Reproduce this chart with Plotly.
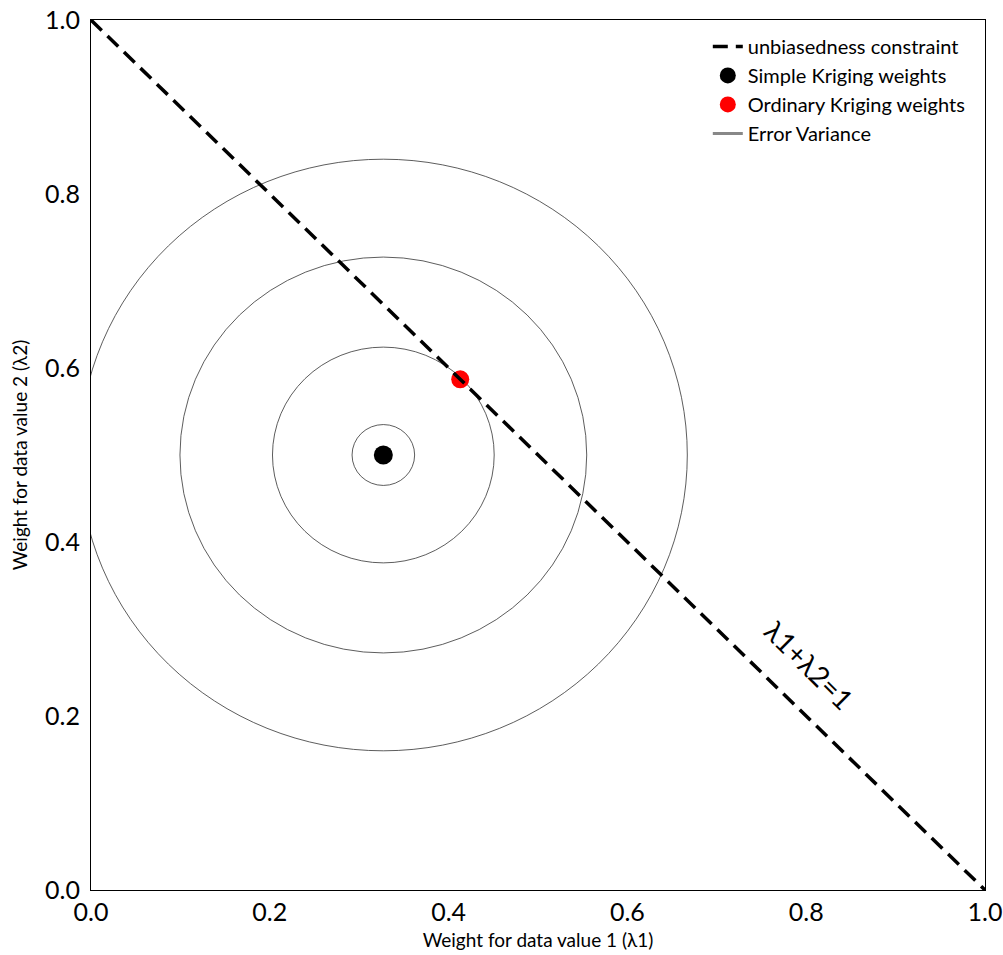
import plotly.graph_objects as go

# Data
constraint_x = [0.0, 1.0]
constraint_y = [1.0, 0.0]
sk_weight = [0.327, 0.50]         # Simple Kriging weights (lambda1, lambda2)
ok_weight = [0.413, 0.587]        # Ordinary Kriging weights
contour_radii = [0.035, 0.124, 0.2275, 0.34]   # error variance contours
tick_vals = [0.0, 0.2, 0.4, 0.6, 0.8, 1.0]
tick_text = ["0.0", "0.2", "0.4", "0.6", "0.8", "1.0"]

FONT = "Lato, 'Open Sans', sans-serif"

fig = go.Figure()

fig.add_trace(go.Scatter(
    x=[ok_weight[0]], y=[ok_weight[1]], mode="markers",
    marker=dict(color="#ff0000", size=18),
    name="Ordinary Kriging weights", legendrank=3))

fig.add_trace(go.Scatter(
    x=constraint_x, y=constraint_y, mode="lines",
    line=dict(color="black", width=3.5, dash="15px,8px"),
    name="unbiasedness constraint", legendrank=1))

fig.add_trace(go.Scatter(
    x=[sk_weight[0]], y=[sk_weight[1]], mode="markers",
    marker=dict(color="black", size=19),
    name="Simple Kriging weights", legendrank=2))

fig.add_trace(go.Scatter(
    x=[None], y=[None], mode="lines",
    line=dict(color="#888888", width=3),
    name="Error Variance", legendrank=4))

for r in contour_radii:
    fig.add_shape(type="circle", xref="x", yref="y",
                  x0=sk_weight[0] - r, x1=sk_weight[0] + r,
                  y0=sk_weight[1] - r, y1=sk_weight[1] + r,
                  line=dict(color="#333333", width=0.8), layer="below")

fig.add_annotation(x=0.804, y=0.259, xref="x", yref="y", text="λ1+λ2=1",
                   showarrow=False, textangle=45,
                   font=dict(size=28, color="black", family=FONT))

axis_common = dict(range=[0, 1], showgrid=False, zeroline=False, automargin=False,
                   showline=True, linecolor="black", linewidth=1.2, mirror=True,
                   ticks="", tickvals=tick_vals, ticktext=tick_text,
                   ticklabeloverflow="allow",
                   tickfont=dict(size=25, color="black", family=FONT))

fig.update_xaxes(**axis_common,
                 title=dict(text="Weight for data value 1 (λ1)",
                            font=dict(size=19, color="black", family=FONT), standoff=8))
fig.update_yaxes(**axis_common, ticklabelstandoff=5,
                 title=dict(text="Weight for data value 2 (λ2)",
                            font=dict(size=19, color="black", family=FONT), standoff=12))

fig.update_layout(
    width=1003, height=955,
    margin=dict(l=91, r=18, t=20, b=65),
    paper_bgcolor="white", plot_bgcolor="white",
    font=dict(family=FONT, color="black"),
    showlegend=True,
    legend=dict(x=0.983, y=0.992, xanchor="right", yanchor="top",
                bgcolor="rgba(0,0,0,0)", font=dict(size=20, color="black", family=FONT),
                tracegroupgap=0),
)

fig.write_html("out.html", config={"displayModeBar": False},
               post_script="document.body.style.margin='0';document.body.style.overflow='hidden';")
